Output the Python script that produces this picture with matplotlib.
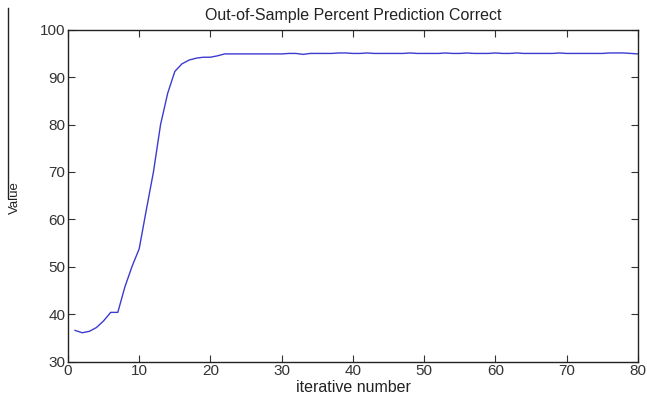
import numpy as np
import matplotlib
matplotlib.use("Agg")
import matplotlib.pyplot as plt
from matplotlib.lines import Line2D

plt.rcParams["font.family"] = ["Liberation Sans", "DejaVu Sans"]

# out-of-sample percent correct per iteration
iteration = list(range(1, 81))
pct_correct = [
    36.6, 36.1, 36.4, 37.2, 38.6, 40.4, 40.4, 45.8, 50.1, 53.8,
    62.0, 70.0, 80.0, 86.6, 91.2, 92.8, 93.6, 94.0, 94.2, 94.2,
    94.5, 94.9, 94.9, 94.9, 94.9, 94.9, 94.9, 94.9, 94.9, 94.9,
    95.0, 95.0, 94.8, 95.0, 95.0, 95.0, 95.0, 95.1, 95.1, 95.0,
    95.0, 95.1, 95.0, 95.0, 95.0, 95.0, 95.0, 95.1, 95.0, 95.0,
    95.0, 95.0, 95.1, 95.0, 95.0, 95.1, 95.0, 95.0, 95.0, 95.1,
    95.0, 95.0, 95.1, 95.0, 95.0, 95.0, 95.0, 95.0, 95.1, 95.0,
    95.0, 95.0, 95.0, 95.0, 95.0, 95.1, 95.1, 95.1, 95.0, 94.9,
]

x_ticks = [0, 10, 20, 30, 40, 50, 60, 70, 80]
y_ticks = [30, 40, 50, 60, 70, 80, 90, 100]

fig = plt.figure(figsize=(6.47, 3.99), dpi=100)
ax = fig.add_axes([0.105, 0.0935, 0.881, 0.832])

ax.plot(iteration, pct_correct, color="#3b3bd0", linewidth=1.0)

ax.set_xlim(0, 80)
ax.set_ylim(30, 100)
ax.set_xticks(x_ticks)
ax.set_yticks(y_ticks)
ax.tick_params(direction="in", length=5, width=0.8, top=True, right=True,
               labelsize=11, colors="#333333", pad=2)
for side in ax.spines.values():
    side.set_linewidth(1.0)
    side.set_color("#222222")

ax.set_title("Out-of-Sample Percent Prediction Correct", fontsize=11.5, pad=7,
             color="#222222")
ax.set_xlabel("iterative number", fontsize=11.5, labelpad=1, color="#222222")
fig.text(0.0235, 0.505, "Value", rotation=90, fontsize=9.5, color="#222222",
         ha="center", va="center")

# stray vertical rule at the upper left of the original image
fig.add_artist(Line2D([0.0131, 0.0131], [1 - 8 / 399, 1 - 198 / 399],
                      transform=fig.transFigure, color="#222222", linewidth=1.0))

fig.savefig("out.png", dpi=100)
